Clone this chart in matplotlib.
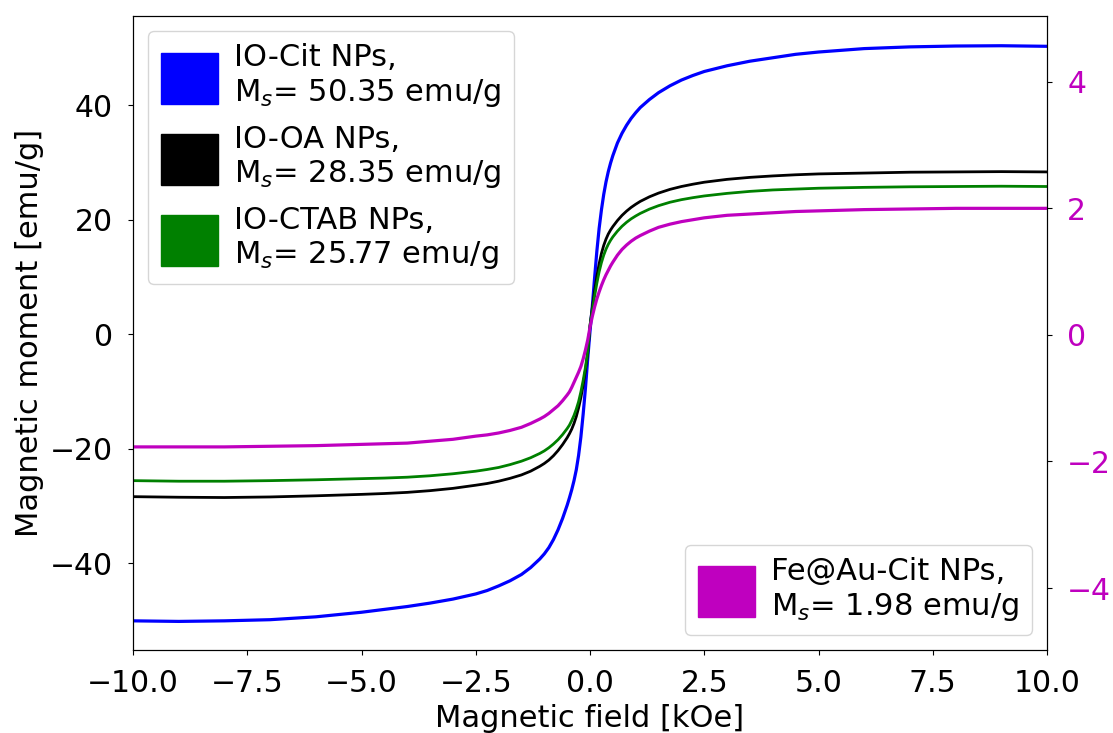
import matplotlib
matplotlib.use("Agg")
import matplotlib.pyplot as plt
from matplotlib.patches import Patch

# Applied field [kOe]
field = [-10, -9, -8, -7, -6, -5, -4.5, -4, -3.5, -3, -2.5, -2.25, -2, -1.75,
         -1.5, -1.3, -1.1, -1.0, -0.9, -0.8, -0.7, -0.6, -0.5, -0.45, -0.4,
         -0.35, -0.3, -0.25, -0.2, -0.15, -0.1, -0.05,
         0, 0.05, 0.1, 0.15, 0.2, 0.25, 0.3, 0.35, 0.4, 0.45, 0.5, 0.6, 0.7,
         0.8, 0.9, 1.0, 1.1, 1.3, 1.5, 1.75, 2.0, 2.25, 2.5, 3.0, 3.5, 4.0,
         4.5, 5, 6, 7, 8, 9, 10]

# Magnetic moment [emu/g]
io_cit = [-50.1, -50.2, -50.1, -49.9, -49.4, -48.6, -48.1, -47.6, -47.0, -46.3,
          -45.4, -44.8, -44.0, -43.1, -42.0, -40.8, -39.3, -38.4, -37.3, -35.9,
          -34.2, -32.2, -29.9, -28.6, -27.2, -25.6, -23.7, -21.2, -18.0, -14.0,
          -9.5, -4.3,
          0.5, 4.8, 9.8, 14.5, 18.5, 21.7, 24.4, 26.6, 28.4, 29.9, 31.2, 33.4,
          35.1, 36.5, 37.7, 38.7, 39.6, 41.0, 42.2, 43.4, 44.4, 45.2, 45.9,
          46.9, 47.7, 48.3, 48.9, 49.3, 49.9, 50.2, 50.35, 50.4, 50.3]
io_oa = [-28.4, -28.5, -28.55, -28.45, -28.25, -28.0, -27.85, -27.65, -27.35,
         -26.95, -26.4, -26.1, -25.7, -25.2, -24.6, -23.95, -23.1, -22.6, -22.0,
         -21.25, -20.35, -19.3, -18.1, -17.4, -16.6, -15.6, -14.4, -12.9, -11.1,
         -8.9, -6.3, -3.4,
         1.5, 4.6, 7.5, 10.1, 12.3, 14.1, 15.5, 16.6, 17.5, 18.2, 18.8, 19.85,
         20.75, 21.5, 22.15, 22.7, 23.2, 24.0, 24.65, 25.3, 25.8, 26.2, 26.55,
         27.05, 27.4, 27.65, 27.85, 28.0, 28.15, 28.3, 28.35, 28.4, 28.35]
io_ctab = [-25.6, -25.7, -25.7, -25.6, -25.45, -25.25, -25.15, -25.0, -24.75,
           -24.4, -23.95, -23.65, -23.3, -22.8, -22.2, -21.6, -20.85, -20.4,
           -19.85, -19.2, -18.45, -17.55, -16.5, -15.9, -15.1, -14.2, -13.1,
           -11.8, -10.1, -8.1, -5.8, -3.0,
           1.5, 4.1, 6.6, 8.9, 10.9, 12.5, 13.8, 14.85, 15.7, 16.4, 17.0, 18.0,
           18.85, 19.55, 20.15, 20.65, 21.1, 21.85, 22.45, 23.05, 23.5, 23.85,
           24.15, 24.6, 24.95, 25.2, 25.35, 25.5, 25.65, 25.75, 25.8, 25.85, 25.8]
fe_au_cit = [-1.77, -1.77, -1.77, -1.76, -1.75, -1.73, -1.72, -1.71, -1.68, -1.65,
             -1.60, -1.58, -1.55, -1.51, -1.46, -1.40, -1.33, -1.29, -1.24, -1.18,
             -1.12, -1.04, -0.95, -0.90, -0.83, -0.75, -0.67, -0.59, -0.50, -0.38,
             -0.24, -0.08,
             0.12, 0.29, 0.44, 0.57, 0.68, 0.78, 0.87, 0.95, 1.02, 1.09, 1.15,
             1.26, 1.35, 1.42, 1.48, 1.53, 1.57, 1.64, 1.70, 1.75, 1.79, 1.82,
             1.85, 1.89, 1.91, 1.93, 1.95, 1.96, 1.98, 1.99, 2.00, 2.00, 2.00]

labels = ["IO-Cit NPs,\nM$_s$= 50.35 emu/g",
          "IO-OA NPs,\nM$_s$= 28.35 emu/g",
          "IO-CTAB NPs,\nM$_s$= 25.77 emu/g"]
label_fe = "Fe@Au-Cit NPs,\nM$_s$= 1.98 emu/g"

plt.rcParams["font.size"] = 22
plt.rcParams["xtick.labelsize"] = 21.5
plt.rcParams["ytick.labelsize"] = 21.5
plt.rcParams["xtick.major.pad"] = 10.5
plt.rcParams["ytick.major.pad"] = 11

fig = plt.figure(figsize=(11.13, 7.33), dpi=100)
ax = fig.add_axes([0.1195, 0.1132, 0.8212, 0.865])
ax.plot(field, io_cit, color="b", lw=2.3)
ax.plot(field, io_oa, color="k", lw=2.0)
ax.plot(field, io_ctab, color="g", lw=2.0)
ax.set_xlim(-10, 10)
ax.set_ylim(-55.2, 55.6)
ax.set_xlabel("Magnetic field [kOe]")
ax.set_ylabel("Magnetic moment [emu/g]")

ax2 = ax.twinx()
ax2.plot(field, fe_au_cit, color="m", lw=2.3)
ax2.set_ylim(-4.98, 5.04)
ax2.tick_params(axis="y", labelcolor="m")

legend_kw = dict(handlelength=1.87, handleheight=2.2, handletextpad=0.55)
handles = [Patch(color="b"), Patch(color="k"), Patch(color="g")]
ax.legend(handles, labels, loc="upper left", **legend_kw)
ax2.legend([Patch(color="m")], [label_fe], loc="lower right", **legend_kw)

fig.savefig("out.png", dpi=100)
